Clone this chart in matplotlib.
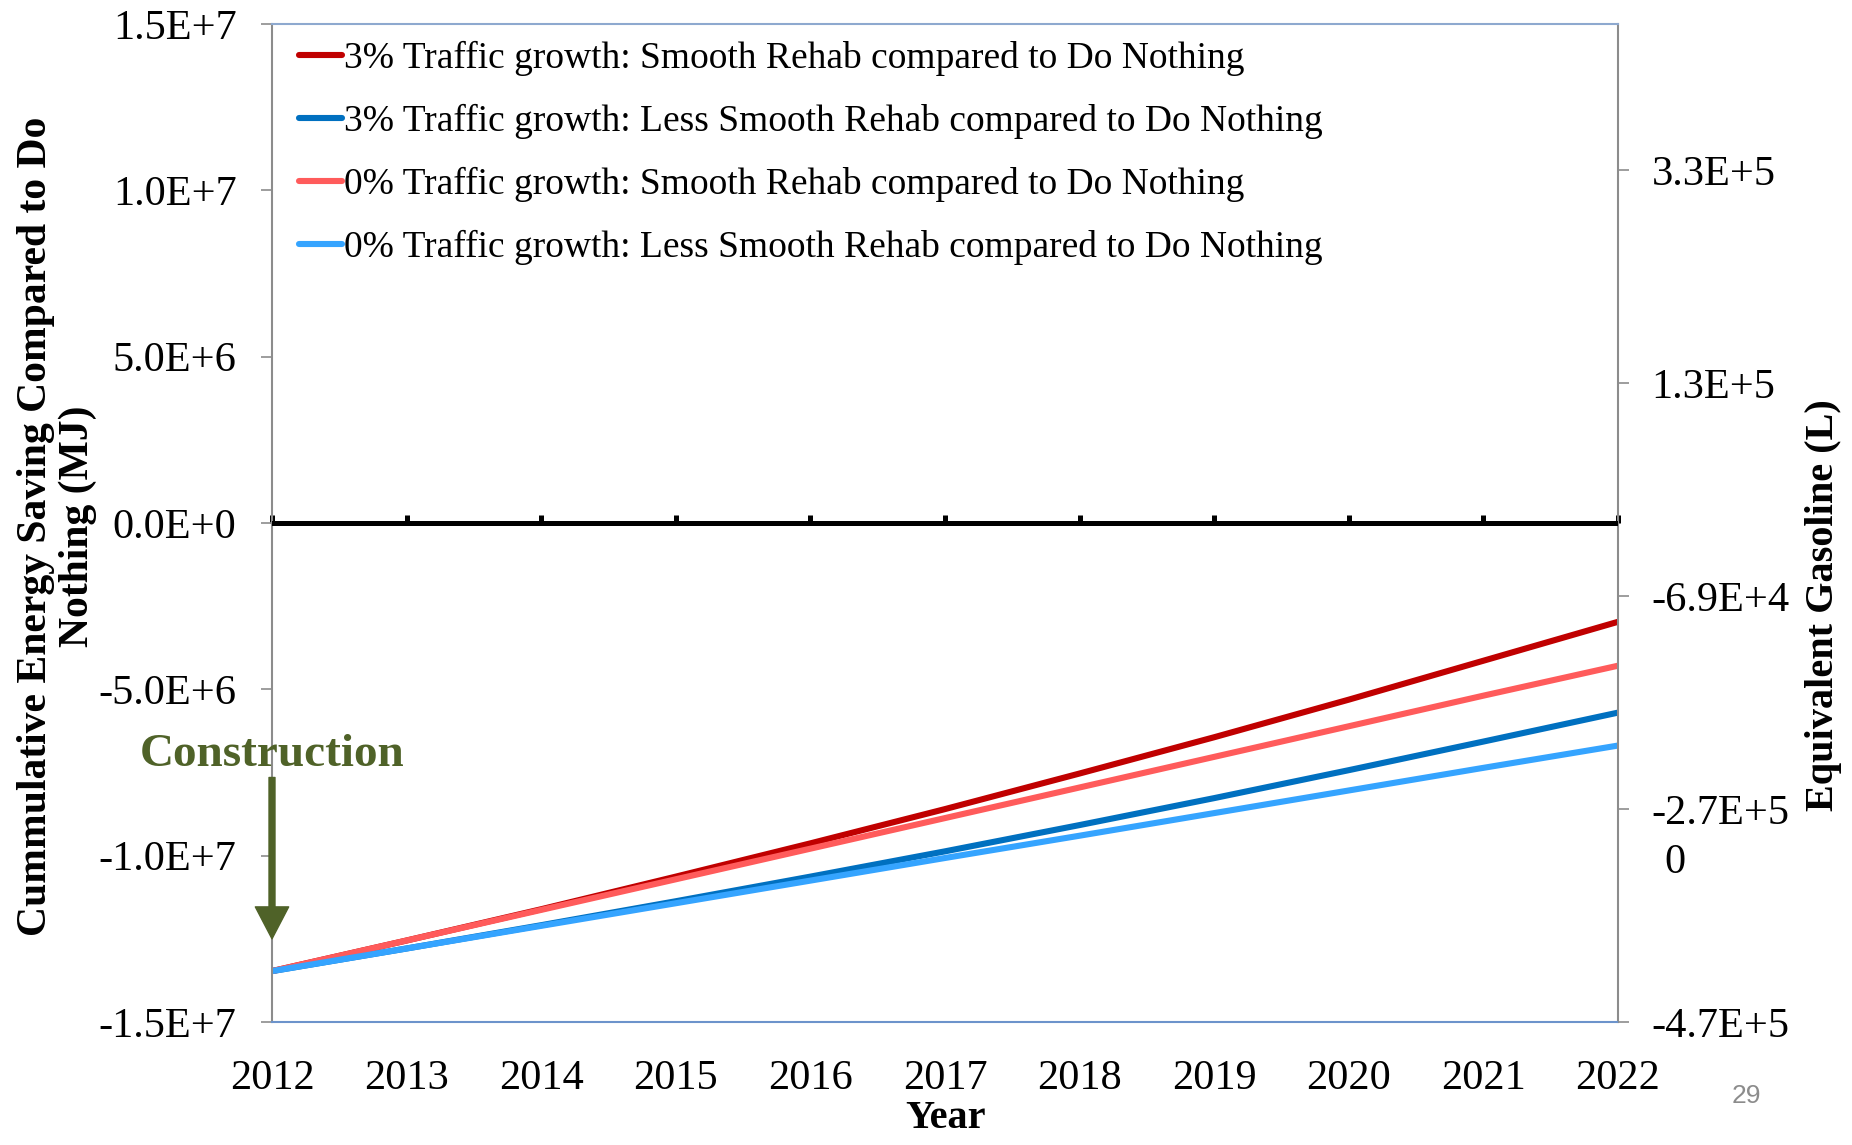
import matplotlib
matplotlib.use("Agg")
import matplotlib.pyplot as plt

plt.rcParams["font.family"] = ["Liberation Serif", "DejaVu Serif"]

# ---- data ----
years = [2012, 2013, 2014, 2015, 2016, 2017, 2018, 2019, 2020, 2021, 2022]
smooth_3pct = [-13.47e6, -12.55e6, -11.61e6, -10.63e6, -9.63e6, -8.60e6,
               -7.53e6, -6.44e6, -5.31e6, -4.14e6, -2.97e6]
less_smooth_3pct = [-13.47e6, -12.79e6, -12.09e6, -11.37e6, -10.63e6, -9.87e6,
                    -9.08e6, -8.27e6, -7.43e6, -6.57e6, -5.70e6]
smooth_0pct = [-13.47e6, -12.55e6, -11.63e6, -10.71e6, -9.79e6, -8.87e6,
               -7.95e6, -7.03e6, -6.11e6, -5.19e6, -4.29e6]
less_smooth_0pct = [-13.47e6, -12.79e6, -12.11e6, -11.43e6, -10.75e6, -10.07e6,
                    -9.40e6, -8.72e6, -8.04e6, -7.36e6, -6.69e6]

labels = [
    "3% Traffic growth: Smooth Rehab compared to Do Nothing",
    "3% Traffic growth: Less Smooth Rehab compared to Do Nothing",
    "0% Traffic growth: Smooth Rehab compared to Do Nothing",
    "0% Traffic growth: Less Smooth Rehab compared to Do Nothing",
]
colors = ["#C00000", "#0070C0", "#FF5B5B", "#35A4FF"]

left_ticks = [-1.5e7, -1.0e7, -5.0e6, 0.0, 5.0e6, 1.0e7, 1.5e7]
left_ticklabels = ["-1.5E+7", "-1.0E+7", "-5.0E+6", "0.0E+0", "5.0E+6", "1.0E+7", "1.5E+7"]
right_lim = 4.6875e5
right_ticks = [-4.6875e5, -2.6875e5, -0.6875e5, 1.3125e5, 3.3125e5]
right_ticklabels = ["-4.7E+5", "-2.7E+5", "-6.9E+4", "1.3E+5", "3.3E+5"]

# ---- figure ----
fig = plt.figure(figsize=(18.52, 11.45), dpi=100)
ax = fig.add_axes([272 / 1852, 1 - 1022 / 1145, 1346 / 1852, 998 / 1145])

series = [smooth_3pct, less_smooth_3pct, smooth_0pct, less_smooth_0pct]
for vals, lab, c in zip(series, labels, colors):
    ax.plot(years, vals, color=c, lw=4.4, label=lab, solid_capstyle="round")

ax.set_xlim(2012, 2022)
ax.set_ylim(-1.5e7, 1.5e7)
ax.set_yticks(left_ticks)
ax.set_yticklabels(left_ticklabels)
ax.set_xticks(years)
ax.set_xticklabels([str(y) for y in years])
ax.tick_params(axis="y", direction="out", length=8, width=1.2, color="#8C8C8C",
               labelsize=30.5, pad=17.5)
ax.tick_params(axis="x", length=0, labelsize=30.5, pad=27)

for side in ["left", "right"]:
    ax.spines[side].set_color("#8C8C8C")
    ax.spines[side].set_linewidth(1.5)
ax.spines["top"].set_color("#8EA9CF")
ax.spines["top"].set_linewidth(1.5)
ax.spines["bottom"].set_color("#6C93CB")
ax.spines["bottom"].set_linewidth(1.5)

# zero axis line with year ticks (Excel style crossing at 0)
ax.axhline(0, color="black", lw=3.6, zorder=3)
zero_ax = ax.secondary_xaxis(0.5)
zero_ax.set_xticks(years)
zero_ax.tick_params(axis="x", direction="out", length=6, width=3.6, color="black",
                    labelbottom=False, labeltop=False)
zero_ax.spines["bottom"].set_visible(False)

# right axis: equivalent gasoline
ax2 = ax.twinx()
ax2.set_ylim(-right_lim, right_lim)
ax2.set_yticks(right_ticks)
ax2.set_yticklabels(right_ticklabels)
ax2.tick_params(axis="y", direction="out", length=8, width=1.2, color="#8C8C8C",
                labelsize=30.5, pad=16)
for s in ax2.spines.values():
    s.set_visible(False)

# axis labels
ax.set_ylabel("Cummulative Energy Saving Compared to Do\nNothing (MJ)",
              fontsize=30, fontweight="bold", linespacing=1.12)
ax.yaxis.set_label_coords(-0.130, 0.497)
ax2.set_ylabel("Equivalent Gasoline (L)", fontsize=29, fontweight="bold")
ax2.yaxis.set_label_coords(1.139, 0.418)
ax.set_xlabel("Year", fontsize=29, fontweight="bold")
ax.xaxis.set_label_coords(0.5, -0.078)

# legend
ax.legend(loc="upper left", bbox_to_anchor=(0.003, 1.006), frameon=False,
          fontsize=27, handlelength=1.15, handletextpad=0.05, labelspacing=0.75,
          borderaxespad=0.2)

# construction annotation
green = "#4F6228"
ax.annotate("", xy=(2012, -12.5e6), xytext=(2012, -7.65e6),
            arrowprops=dict(facecolor=green, edgecolor=green, width=4.3,
                            headwidth=24, headlength=23, shrink=0),
            annotation_clip=False, zorder=5)
ax.text(2012, -6.98e6, "Construction", color=green, fontsize=34, fontweight="bold",
        ha="center", va="center", clip_on=False)

# stray "0" and slide number
fig.text(1675 / 1852, 1 - 863 / 1145, "0", fontsize=30.5, ha="center", va="center")
fig.text(1746 / 1852, 1 - 1096 / 1145, "29", fontsize=19, color="#8C8C8C",
         family="Liberation Sans", ha="center", va="center")

fig.savefig("out.png", dpi=100)
